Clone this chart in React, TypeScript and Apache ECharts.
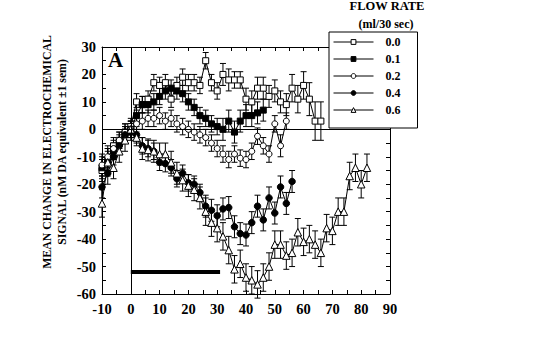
import React, { useEffect, useRef } from 'react';
import * as echarts from 'echarts';

const FONT = "'Liberation Serif', 'Times New Roman', serif";

const minutes = [-10, -8, -6, -4, -2, 0, 2, 4, 6, 8, 10, 12, 14, 16, 18, 20, 22, 24, 26, 28, 30, 32, 34, 36, 38, 40, 42, 44, 46, 48, 50, 52, 54, 56, 58, 60, 62, 64, 66, 68, 70, 72, 74, 76, 78, 80, 82];

const flowRates = ['0.0', '0.1', '0.2', '0.4', '0.6'];

const rate00 = [-15, -11, -6, -4, -1, 1, 10, 9, 11, 17, 16, 17, 11, 16, 19, 17, 17, 16, 25, 17, 14, 20, 18, 18, 18, 11, 10, 15, 15, 12, 14, 10, 9, 15, 11, 16, 11, 3, 3];
const err00 = [4, 4, 3, 3, 3, 3, 3, 3, 3, 3, 3, 3, 3, 3, 3, 3, 3, 3, 3, 3, 3, 4, 4, 3, 3, 4, 4, 4, 4, 4, 4, 4, 4, 5, 5, 5, 6, 7, 7];

const rate01 = [-14, -12, -8, -5, -2, 0, 5, 9, 9, 10, 12, 14, 15, 14, 13, 10, 8, 5, 4, 2, 1, 0, 3, -1, 3, 5, 5, 6, 7];
const err01 = [4, 4, 3, 3, 3, 3, 3, 3, 3, 3, 3, 3, 3, 3, 3, 3, 3, 3, 3, 3, 3, 4, 4, 4, 4, 4, 4, 4, 4];

const rate02 = [-13, -10, -7, -4, -1, 0, 2, 3, 4, 4, 5, 3, 4, 2, 1, 0, -1, -2, -3, -5, -7, -9, -11, -9, -10.5, -11, -8, -2.5, -6, -9, 2, -6, 3];
const err02 = [4, 4, 3, 3, 3, 3, 3, 3, 3, 3, 3, 3, 3, 3, 3, 3, 3, 3, 3, 3, 3, 3, 3, 3, 3, 3, 3, 3, 3, 3, 3, 4, 3];

const rate04 = [-21, -16, -10, -6, -2, -1, -2, -6, -7, -8, -12, -12.5, -14, -18, -16, -19.5, -20, -23, -28, -29.5, -31.5, -29, -28.5, -35.5, -38, -38.5, -34, -28, -33, -25, -30.5, -21, -27, -19];
const err04 = [4, 4, 3, 3, 3, 3, 3, 3, 3, 3, 3, 3, 3, 3, 3, 3, 3, 3, 4, 4, 4, 4, 4, 4, 4, 4, 4, 4, 4, 4, 4, 4, 4, 4];

const rate06 = [-27, -12, -14, -8, -4, 0, -3, -7, -7.5, -8, -9, -9, -12, -16, -18.5, -20.5, -22, -25, -30, -34, -36, -39, -44, -51, -49, -54, -55, -56.5, -54, -50, -42, -42, -46, -45, -37.5, -41, -40, -42, -45, -36, -37, -30, -30, -17, -14, -20, -14];
const err06 = [5, 5, 4, 4, 4, 3, 3, 4, 4, 4, 4, 4, 4, 4, 4, 4, 4, 4, 5, 5, 5, 5, 5, 5, 5, 5, 5, 5, 5, 5, 5, 5, 5, 5, 5, 5, 5, 5, 5, 5, 5, 5, 5, 5, 5, 5, 5];

const allRates = [rate00, rate01, rate02, rate04, rate06];
const allErrs = [err00, err01, err02, err04, err06];
const symbols = ['rect', 'rect', 'circle', 'circle', 'triangle'];
const symbolSizes = [6, 6, 6, 6.5, 7.5];
const fills = ['#fff', '#000', '#fff', '#000', '#fff'];

const barStart = 0;
const barEnd = 31;
const barLevel = -52;

const xMin = -10, xMax = 90, xStep = 10;
const yMin = -60, yMax = 30, yStep = 10;

export default function App() {
  const ref = useRef<HTMLDivElement>(null);
  useEffect(() => {
    if (!ref.current) return;
    const chart = echarts.init(ref.current, undefined, { renderer: 'svg' });

    const axisCommon = (show: boolean) => ({
      axisLine: { show: true, onZero: false, lineStyle: { color: '#000', width: 1 } },
      axisTick: { show: true, inside: true, length: 4, lineStyle: { color: '#000' } },
      minorTick: { show: true, splitNumber: 2, length: 4, lineStyle: { color: '#000' } },
      splitLine: { show: false },
      axisLabel: {
        show,
        color: '#000',
        fontFamily: FONT,
        fontWeight: 'bold',
        fontSize: 14.5,
      },
    });

    const lineSeries: any[] = flowRates.map((name, si) => {
      const s: any = {
        name,
        type: 'line',
        z: 3,
        data: allRates[si].map((v, i) => [minutes[i], v]),
        symbol: symbols[si],
        symbolSize: symbolSizes[si],
        showSymbol: true,
        lineStyle: { color: '#000', width: 1 },
        itemStyle: { color: fills[si], borderColor: '#000', borderWidth: 1 },
        emphasis: { disabled: true },
      };
      if (si === 0) {
        s.markLine = {
          silent: true,
          symbol: ['none', 'none'],
          label: { show: false },
          lineStyle: { color: '#000', width: 1, type: 'solid' },
          data: [
            { yAxis: 0 },
            { xAxis: 0 },
            [
              { coord: [barStart, barLevel], lineStyle: { color: '#000', width: 4, type: 'solid' } },
              { coord: [barEnd, barLevel], lineStyle: { color: '#000', width: 4, type: 'solid' } },
            ],
          ],
        };
      }
      return s;
    });

    const errSeries: any[] = flowRates.map((name, si) => ({
      name: 'err' + name,
      type: 'custom',
      z: 1,
      encode: { x: 0, y: [1, 2] },
      data: allRates[si].map((v, i) => [minutes[i], v - allErrs[si][i], v + allErrs[si][i]]),
      renderItem: (params: any, api: any) => {
        const x = api.value(0);
        const lo = api.coord([x, api.value(1)]);
        const hi = api.coord([x, api.value(2)]);
        const hw = 3;
        const st = { stroke: '#000', lineWidth: 1 };
        return {
          type: 'group',
          children: [
            { type: 'line', shape: { x1: hi[0], y1: hi[1], x2: lo[0], y2: lo[1] }, style: st },
            { type: 'line', shape: { x1: hi[0] - hw, y1: hi[1], x2: hi[0] + hw, y2: hi[1] }, style: st },
            { type: 'line', shape: { x1: lo[0] - hw, y1: lo[1], x2: lo[0] + hw, y2: lo[1] }, style: st },
          ],
        };
      },
    }));

    const txt = (text: string, x: number, y: number, size: number, rot = 0) => ({
      type: 'text', x, y, rotation: rot,
      style: { text, font: `bold ${size}px ${FONT}`, fill: '#000', textAlign: 'center', textVerticalAlign: 'middle', align: 'center', verticalAlign: 'middle' },
    });

    chart.setOption({
      animation: false,
      backgroundColor: '#fff',
      grid: { left: 102, right: 150, top: 47, bottom: 66, containLabel: false },
      xAxis: [
        { type: 'value', min: xMin, max: xMax, interval: xStep, position: 'bottom', ...axisCommon(true), axisLabel: { ...axisCommon(true).axisLabel, margin: 7 } },
        { type: 'value', min: xMin, max: xMax, interval: xStep, position: 'top', ...axisCommon(false) },
      ],
      yAxis: [
        { type: 'value', min: yMin, max: yMax, interval: yStep, position: 'left', ...axisCommon(true), axisLabel: { ...axisCommon(true).axisLabel, margin: 6 } },
        { type: 'value', min: yMin, max: yMax, interval: yStep, position: 'right', ...axisCommon(false) },
      ],
      legend: {
        data: flowRates,
        orient: 'vertical',
        left: 329,
        top: 32,
        itemWidth: 40,
        itemHeight: 6,
        itemGap: 5,
        padding: [4, 17, 12, 4],
        backgroundColor: '#fff',
        borderColor: '#000',
        borderWidth: 1,
        borderRadius: 0,
        z: 10,
        selectedMode: false,
        itemStyle: { borderWidth: 1, borderColor: '#000' },
        lineStyle: { width: 1, color: '#000' },
        textStyle: { fontFamily: FONT, fontWeight: 'bold', fontSize: 12, color: '#000', padding: [0, 0, 0, 7] },
      },
      graphic: [
        { type: 'text', left: 108, top: 49, style: { text: 'A', font: `bold 21px ${FONT}`, fill: '#000' } },
        txt('MEAN CHANGE IN ELECTROCHEMICAL', 47, 152, 11.8, Math.PI / 2),
        txt('SIGNAL (nM DA equivalent \u00b11 sem)', 62, 152, 11.8, Math.PI / 2),
        txt('FLOW RATE', 387, 6, 12.5),
        txt('(ml/30 sec)', 386, 24, 12),
      ],
      series: [...errSeries, ...lineSeries],
    });

    return () => chart.dispose();
  }, []);

  return (
    <div
      ref={ref}
      style={{ position: 'fixed', left: 0, top: 0, width: 540, height: 360, background: '#fff' }}
    />
  );
}
